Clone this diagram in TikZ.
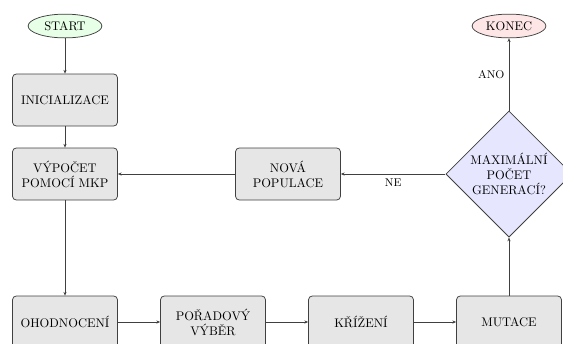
\documentclass[tikz,border=0pt]{standalone}
\usepackage{tikz}
\usetikzlibrary{arrows.meta, shapes.geometric}
\definecolor{startgreen}{HTML}{E6FFE6}
\definecolor{endred}{HTML}{FFE6E6}
\definecolor{decblue}{HTML}{E6E6FF}
\definecolor{boxgray}{HTML}{E6E6E6}

\tikzset{
    stepbox/.style={draw=black!75, fill=boxgray, rounded corners=3pt, line width=0.6pt,
        minimum width=84pt, minimum height=41.6pt, align=center, inner sep=2pt},
    terminal/.style={ellipse, draw=black!75, line width=0.6pt, minimum width=59pt,
        minimum height=19pt, inner sep=1pt},
    decision/.style={diamond, draw=black!75, fill=decblue, line width=0.6pt,
        minimum width=101pt, minimum height=101pt, inner sep=0pt, align=center},
    flow/.style={-{Stealth[length=3pt, width=2.5pt]}, draw=black!75, line width=0.6pt}
}

\begin{document}
\begin{tikzpicture}[x=0.8pt, y=-0.8pt]
    \useasboundingbox (0,0) rectangle (563,343);
    % top column
    \node[terminal, fill=startgreen] (start) at (65,26) {START};
    \node[stepbox] (init) at (65,100) {INICIALIZACE};
    \node[stepbox] (calc) at (65,174) {VÝPOČET\\POMOCÍ MKP};
    \node[stepbox] (newpop) at (288,174) {NOVÁ\\POPULACE};
    \node[decision] (check) at (509,174) {MAXIMÁLNÍ\\POČET\\GENERACÍ?};
    \node[terminal, fill=endred] (stop) at (509,26) {KONEC};
    % bottom row
    \node[stepbox] (eval) at (65,322) {OHODNOCENÍ};
    \node[stepbox] (select) at (213,322) {POŘADOVÝ\\VÝBĚR};
    \node[stepbox] (cross) at (361,322) {KŘÍŽENÍ};
    \node[stepbox] (mutate) at (509,322) {MUTACE};

    \draw[flow] (start) -- (init);
    \draw[flow] (init) -- (calc);
    \draw[flow] (calc) -- (eval);
    \draw[flow] (eval) -- (select);
    \draw[flow] (select) -- (cross);
    \draw[flow] (cross) -- (mutate);
    \draw[flow] (mutate) -- (check);
    \draw[flow] (check) -- node[left, font=\small] {ANO} (stop);
    \draw[flow] (check) -- node[below, font=\small] {NE} (newpop);
    \draw[flow] (newpop) -- (calc);
\end{tikzpicture}
\end{document}
